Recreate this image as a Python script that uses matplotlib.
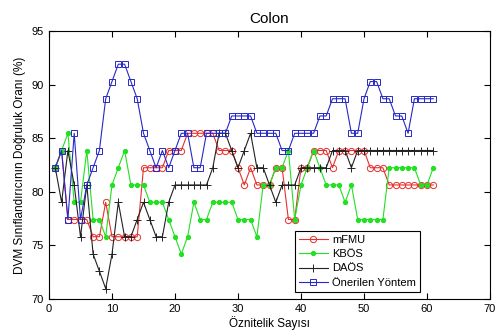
import matplotlib
matplotlib.use('Agg')
import matplotlib.pyplot as plt

plt.rcParams['font.family'] = ['Liberation Sans', 'DejaVu Sans']

features = list(range(1, 62))

mfmu = [82.26, 83.87, 77.42, 77.42, 77.42, 77.42, 75.81, 75.81, 79.03, 75.81,
        75.81, 75.81, 75.81, 75.81, 82.26, 82.26, 82.26, 82.26, 83.87, 83.87,
        83.87, 85.48, 85.48, 85.48, 85.48, 85.48, 83.87, 83.87, 83.87, 82.26,
        80.65, 82.26, 80.65, 80.65, 80.65, 82.26, 82.26, 77.42, 77.42, 82.26,
        82.26, 83.87, 83.87, 83.87, 82.26, 83.87, 83.87, 83.87, 83.87, 83.87,
        82.26, 82.26, 82.26, 80.65, 80.65, 80.65, 80.65, 80.65, 80.65, 80.65,
        80.65]

kbos = [82.26, 83.87, 85.48, 79.03, 79.03, 83.87, 77.42, 77.42, 75.81, 80.65,
        82.26, 83.87, 80.65, 80.65, 80.65, 79.03, 79.03, 79.03, 77.42, 75.81,
        74.19, 75.81, 79.03, 77.42, 77.42, 79.03, 79.03, 79.03, 79.03, 77.42,
        77.42, 77.42, 75.81, 80.65, 80.65, 82.26, 82.26, 83.87, 77.42, 80.65,
        82.26, 83.87, 82.26, 80.65, 80.65, 80.65, 79.03, 80.65, 77.42, 77.42,
        77.42, 77.42, 77.42, 82.26, 82.26, 82.26, 82.26, 82.26, 80.65, 80.65,
        82.26]

daos = [82.26, 79.03, 83.87, 80.65, 75.81, 80.65, 74.19, 72.58, 70.97, 74.19,
        79.03, 75.81, 75.81, 77.42, 79.03, 77.42, 75.81, 75.81, 79.03, 80.65,
        80.65, 80.65, 80.65, 80.65, 80.65, 82.26, 85.48, 85.48, 83.87, 82.26,
        83.87, 85.48, 82.26, 82.26, 80.65, 79.03, 80.65, 80.65, 80.65, 82.26,
        82.26, 82.26, 82.26, 82.26, 83.87, 83.87, 83.87, 82.26, 83.87, 83.87,
        83.87, 83.87, 83.87, 83.87, 83.87, 83.87, 83.87, 83.87, 83.87, 83.87,
        83.87]

onerilen = [82.26, 83.87, 77.42, 85.48, 77.42, 80.65, 82.26, 83.87, 88.71, 90.32,
            91.94, 91.94, 90.32, 88.71, 85.48, 83.87, 82.26, 83.87, 82.26, 83.87,
            85.48, 85.48, 82.26, 82.26, 85.48, 85.48, 85.48, 85.48, 87.10, 87.10,
            87.10, 87.10, 85.48, 85.48, 85.48, 85.48, 83.87, 83.87, 85.48, 85.48,
            85.48, 85.48, 87.10, 87.10, 88.71, 88.71, 88.71, 85.48, 85.48, 88.71,
            90.32, 90.32, 88.71, 88.71, 87.10, 87.10, 85.48, 88.71, 88.71, 88.71,
            88.71]

fig = plt.figure(figsize=(5, 3.31), dpi=100)
ax = fig.add_axes([0.098, 0.097, 0.882, 0.808])

ax.plot(features, mfmu, color='#e8302c', lw=0.8, marker='o', ms=4.5,
        mfc='none', mec='#e8302c', mew=0.7, label='mFMU')
ax.plot(features, kbos, color='#22e022', lw=0.8, marker='o', ms=2.8,
        mfc='#22e022', mec='#22e022', label='KBÖS')
ax.plot(features, daos, color='#222222', lw=0.8, marker='+', ms=5.5,
        mew=0.7, label='DAÖS')
ax.plot(features, onerilen, color='#2828c8', lw=0.8, marker='s', ms=4,
        mfc='none', mec='#2828c8', mew=0.7, label='Önerilen Yöntem')

ax.set_xlim(0, 70)
ax.set_ylim(70, 95)
ax.set_xticks(range(0, 71, 10))
ax.set_yticks(range(70, 96, 5))
ax.tick_params(direction='in', top=True, right=True, labelsize=8, length=4)

ax.set_title('Colon', fontsize=11, pad=6)
ax.set_xlabel('Öznitelik Sayısı', fontsize=8.5, labelpad=2)
ax.set_ylabel('DVM Sınıflandırıcının Doğruluk Oranı (%)', fontsize=8.5, labelpad=4)

leg = ax.legend(loc='lower left', bbox_to_anchor=(0.545, 0.006), fontsize=8,
                fancybox=False, framealpha=1, edgecolor='black',
                handlelength=2.6, borderpad=0.35, labelspacing=0.4,
                handletextpad=0.4)
leg.get_frame().set_linewidth(0.8)

fig.savefig('out.png', dpi=100)
